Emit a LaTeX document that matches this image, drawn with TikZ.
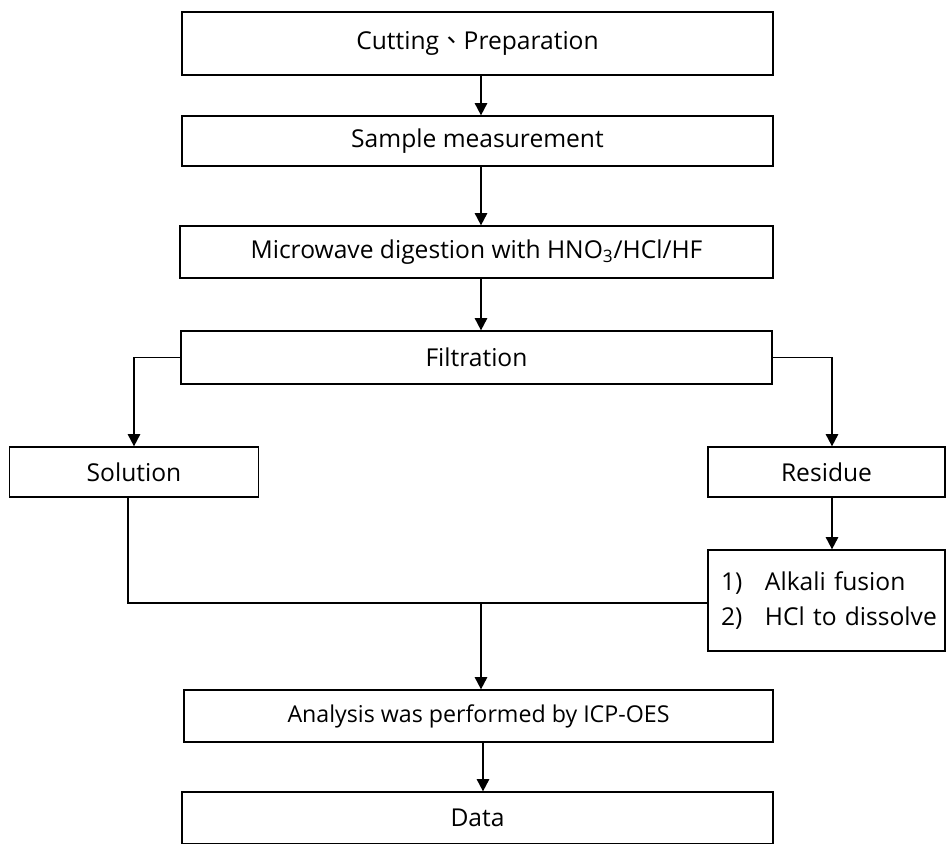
\documentclass[tikz,border=0pt]{standalone}
\usepackage{fontspec}
\setmainfont{Open Sans}
\newfontfamily\cjk{Noto Sans CJK TC}
\usetikzlibrary{arrows.meta}
\usetikzlibrary{positioning}

\begin{document}
\begin{tikzpicture}[x=0.02cm,y=-0.02cm,
    arr/.style={-{Triangle[length=7pt,width=7pt]},line width=1.1pt},
    box/.style={rectangle,draw,line width=0.7pt,inner sep=0pt,font=\fontsize{14}{17}\selectfont},
    link/.style={line width=0.7pt}]
    \useasboundingbox (0,0) rectangle (946,844);
    % main column
    \node[box,minimum width=591*0.02cm,minimum height=63*0.02cm] (cut) at (477.5,43.5) {Cutting{\cjk 、}Preparation};
    \node[box,minimum width=591*0.02cm,minimum height=50*0.02cm] (meas) at (477.5,141) {Sample measurement};
    \node[box,minimum width=593*0.02cm,minimum height=52*0.02cm] (dig) at (476.5,252) {Microwave digestion with HNO\textsubscript{3}/HCl/HF};
    \node[box,minimum width=591*0.02cm,minimum height=53*0.02cm] (filt) at (476.5,357.5) {Filtration};
    % branches
    \node[box,minimum width=249*0.02cm,minimum height=50*0.02cm] (sol) at (134,472) {Solution};
    \node[box,minimum width=237*0.02cm,minimum height=101*0.02cm,text width=211*0.02cm,inner xsep=13*0.02cm,align=left,font=\fontsize{14}{19.8}\selectfont] (fus) at (826.5,600.5)
      {\mbox{\makebox[0.88cm][l]{1)}Alkali fusion}\\ \mbox{\makebox[0.88cm][l]{2)}HCl to dissolve}};
    \node[box,minimum width=237*0.02cm,minimum height=50*0.02cm] (res) at (826.5,472) {Residue};
    % analysis
    \node[box,minimum width=589*0.02cm,minimum height=52*0.02cm,font=\fontsize{13.2}{16}\selectfont] (ana) at (478.5,716) {Analysis was performed by ICP-OES};
    \node[box,minimum width=591*0.02cm,minimum height=52*0.02cm] (data) at (477.5,818) {Data};

    \coordinate (col) at (481,0);
    \coordinate (colr) at (832,0);
    \coordinate (join) at (481,603);

    \draw[arr] (cut.south -| col) -- (col |- meas.north);
    \draw[arr] (meas.south -| col) -- (col |- dig.north);
    \draw[arr] (dig.south -| col) -- (col |- filt.north);
    \draw[arr] (filt.west) -| (sol.north);
    \draw[arr] (filt.east) -| (colr |- res.north);
    \draw[arr] (res.south -| colr) -- (colr |- fus.north);
    \draw[link] ([xshift=-0.12cm]sol.south) |- (fus.west |- join);
    \draw[arr] (join) -- (join |- ana.north);
    \draw[arr] ([xshift=0.04cm]ana.south -| col) -- ([xshift=0.04cm]col |- data.north);
\end{tikzpicture}
\end{document}
